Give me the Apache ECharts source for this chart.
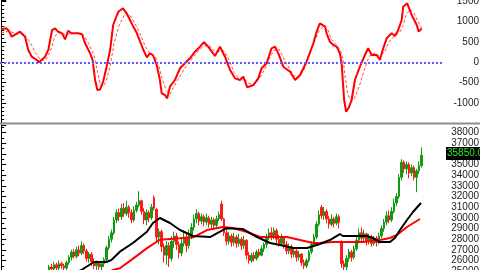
<!DOCTYPE html>
<html><head><meta charset="utf-8">
<script src="https://cdn.jsdelivr.net/npm/echarts@6/dist/echarts.min.js"></script>
<style>html,body{margin:0;padding:0;background:#fff}#c{width:480px;height:270px}</style>
</head><body><div id="c"></div>
<script>
// Oscillator (top panel): [bar position, value]
const oscMain = [[0,813],[2,837],[3,778],[4.2,631],[7.5,754],[9.5,631],[10.8,303],[12.2,138],[14.2,57],[15.1,0],[17.5,138],[18.8,303],[20.3,795],[21.5,837],[22.7,754],[24.3,714],[25.5,566],[26.7,778],[28.1,714],[30.7,714],[32.3,690],[33.5,468],[35.5,221],[36.5,57],[37.5,-436],[38.4,-682],[39.5,-670],[40.7,-478],[42.1,-108],[43.5,303],[44.7,919],[46.8,1246],[48.6,1330],[50.1,1207],[52.1,960],[54.2,714],[56.8,303],[58.2,123],[59.4,221],[60.6,180],[62.1,-66],[63.4,-436],[64.1,-764],[65.4,-805],[66.3,-887],[67.4,-600],[69.4,-436],[71.4,-148],[73.4,-25],[75.4,98],[77.4,262],[79.4,385],[81,493],[82.7,385],[84.1,262],[85.4,155],[87.4,385],[89.4,138],[91.4,-190],[93.4,-395],[95.4,-436],[96.7,-354],[98.3,-616],[100.7,-560],[102.7,-395],[104,-148],[106,-25],[108,345],[109.4,385],[110.7,221],[112.7,-108],[115.4,-231],[117.4,-436],[119.4,-313],[122,15],[124.7,468],[126,754],[127.3,960],[128,975],[129.4,877],[130,714],[131.3,508],[132.7,426],[134,385],[135.3,222],[136,-25],[137,-929],[137.8,-1217],[138.7,-1133],[140,-929],[141.3,-436],[143.3,-108],[145.3,180],[146.6,345],[148,180],[150,180],[151.3,57],[152.6,345],[154,591],[156,714],[157.3,648],[158.6,796],[160,1042],[160.6,1370],[162.2,1453],[164,1165],[166,919],[166.8,754],[167.3,754],[168,837]];
const oscSignal = [[0,720],[3,770],[6,700],[9,700],[11.5,500],[13.5,250],[15.5,80],[17.5,40],[19.5,250],[21.5,650],[23.5,760],[25.5,680],[27.5,700],[30.5,720],[33,660],[35,450],[37,180],[38.5,-250],[39.5,-520],[40.7,-600],[42,-450],[43.5,-100],[45,450],[47,900],[49.5,1200],[51.5,1150],[53.5,950],[55.5,700],[57.5,400],[59.5,200],[61.5,150],[63,-100],[64.5,-450],[66,-700],[67.5,-780],[69,-600],[71,-380],[73,-180],[75,0],[77,150],[79,300],[81,400],[83,420],[85,280],[87,260],[89,280],[91,60],[93,-250],[95,-400],[97,-400],[99,-520],[101,-540],[103,-420],[105,-200],[107,80],[109,300],[111,320],[113,80],[115,-140],[117,-330],[119,-370],[121,-180],[123,200],[125,500],[127,780],[129,900],[130.5,800],[132,560],[134,420],[135.5,300],[136.5,100],[137.5,-400],[138.5,-800],[139.8,-950],[141,-900],[143,-600],[145,-200],[147,150],[149,230],[151,150],[153,250],[155,500],[157,650],[159,720],[160.5,900],[162,1200],[163.5,1300],[165,1200],[166.5,1000],[168,850]];

// Candles (bottom panel)
const candleOpen = [23300,23500,23700,23600,23900,24100,23800,23600,23400,23700,23900,24200,24000,24300,24500,24200,24000,24300,24600,24900,25400,25200,25600,25300,25700,25500,25300,25800,26300,26800,26400,27000,26700,27400,26900,26200,26600,25900,25500,25800,25400,25700,26100,27200,28000,28600,29800,30500,30100,30900,30400,31000,30500,29800,30700,31200,31600,30600,29800,30500,30000,31900,30800,28200,28700,27300,26500,27400,26200,27800,28300,27500,26700,27600,28200,27400,28300,29100,29900,30400,29700,30100,29600,30000,29400,29800,29300,29900,31300,29900,28600,27800,28300,27700,28200,27600,28000,27400,27900,26500,26000,26500,26200,26800,26500,27100,27500,28100,28600,28300,28800,28000,27600,28100,27500,26900,27300,26600,26900,26300,26600,25800,25500,26000,26800,27500,28200,29400,31000,30200,30600,29900,29400,29900,29500,30100,27700,25700,25400,26200,26800,26300,27100,27900,28600,28100,28500,27800,28200,27600,28100,27700,28300,29000,29600,30200,29800,30600,31400,32000,33800,35200,34600,35000,34200,34700,33800,34400,34900];
const candleClose = [23500,23700,23600,23900,24100,23800,23600,23400,23700,23900,24200,24000,24300,24500,24200,24000,24300,24600,24900,25400,25200,25600,25300,25700,25500,25300,25800,26300,26800,26400,27000,26700,27400,26900,26200,26600,25900,25500,25800,25400,25700,26100,27200,28000,28600,29800,30500,30100,30900,30400,31000,30500,29800,30700,31200,31600,30600,29800,30500,30000,31000,30900,28200,28700,27300,26500,27400,26200,27800,28300,27500,26700,27600,28200,27400,28300,29100,29900,30400,29700,30100,29600,30000,29400,29800,29300,29900,30300,29900,28600,27800,28300,27700,28200,27600,28000,27400,27900,26500,26000,26500,26200,26800,26500,27100,27500,28100,28600,28300,28800,28000,27600,28100,27500,26900,27300,26600,26900,26300,26600,25800,25500,26000,26800,27500,28200,29400,30300,30200,30600,29900,29400,29900,29500,30100,29600,25700,25400,26200,26800,26300,27100,27900,28600,28100,28500,27800,28200,27600,28100,27700,28300,29000,29600,30200,29800,30600,31400,32000,33800,35200,34600,35000,34200,34700,33800,34400,34900,35850];
const candleLow = [23100,23300,23400,23400,23700,23600,23400,23200,23200,23500,23700,23800,23800,24100,24000,23800,23800,24100,24400,24700,24900,25000,25000,25100,25200,24900,25100,25600,26000,26200,26200,26400,26500,26600,25900,25800,25500,25200,25100,25000,25100,25400,25900,27000,27700,28400,29500,29700,29800,30100,30200,30000,29500,29600,30500,31000,30300,29400,29300,29600,29800,30700,27700,27500,26800,25800,25600,25400,25900,27200,27000,26200,26400,27300,26800,27100,28000,28800,29500,29300,29400,29200,29300,29100,29000,28900,29100,29700,29700,28300,27400,27500,27300,27400,27200,27300,27000,27100,26100,25700,25800,25900,26000,26300,26400,26800,27200,27900,27900,28000,27600,27300,27400,27100,26600,26600,26200,26300,25900,26000,25500,25200,25300,25800,26600,27300,28000,29200,29900,29800,29500,29000,29200,29100,29300,29000,25300,25000,25100,25900,25900,26100,26900,27600,27800,27700,27400,27500,27300,27400,27300,27500,28100,28700,29300,29500,29600,30400,31100,31800,33500,34200,34100,33700,33900,33500,32400,34100,34700];
const candleHigh = [23700,23900,23900,24100,24300,24300,24000,23800,23900,24100,24400,24400,24500,24700,24700,24400,24500,24800,25000,25600,25700,25900,25800,26000,25900,25700,26000,26500,27000,27100,27300,27400,27800,27600,27100,26800,26800,26200,26000,25900,25900,26300,27400,28300,28900,30100,30800,30900,31300,31400,31600,31200,30800,31100,31500,32500,31700,30900,30800,30700,31300,32100,30900,29000,28900,27600,27800,27700,28300,28700,28600,27800,28000,28800,28500,28900,29500,30300,30800,30600,30400,30300,30400,30200,30100,30000,30200,30600,31600,30000,28900,28700,28500,28600,28400,28500,28200,28300,28000,26800,26700,26800,27000,27100,27400,27700,28500,29000,29100,29100,29000,28400,28500,28300,27800,27600,27500,27200,27100,26900,26700,26100,26200,27000,27800,28500,29700,30700,31200,31000,30800,30200,30300,30100,30400,30300,27900,26000,26500,27100,27000,27400,28300,29000,29100,28900,28600,28500,28400,28300,28300,28600,29300,29900,30600,30700,31000,31800,32300,34100,35500,35400,35300,35200,35000,34900,34600,35300,36600];

// Moving averages: [bar position, value]
const maFast = [[24,24300],[28,24700],[32,25109],[37,25860],[42,25860],[44,26047],[47.4,26830],[52.6,27640],[58.2,28700],[60.6,29516],[63.4,29984],[67.4,29516],[71.4,28859],[76.6,28297],[83.4,28203],[86.5,28600],[90,29030],[96.6,28950],[102.2,28203],[107.4,27641],[111.4,27453],[116.6,27172],[122.2,27172],[127.3,27547],[131.3,27922],[135.3,28484],[136.5,28297],[140.5,28297],[146.1,28297],[148.5,28109],[151.3,27734],[155.3,27734],[157.3,28109],[159.3,28859],[162.1,29797],[164.5,30547],[167.7,31391]];
const maSlow = [[36,24300],[40,24600],[44.6,25110],[47.4,25270],[52.8,26200],[58.1,27140],[62.1,27760],[63.4,27950],[71.4,28080],[76.6,28180],[82.2,28859],[88.6,29141],[92.6,29047],[98.2,28672],[103.4,28203],[108.6,28203],[114.2,28203],[119.4,27922],[124.6,27641],[127.3,27641],[132.5,27734],[138.1,27734],[144.5,27734],[151.3,27922],[155.3,28109],[158.1,28391],[162.1,29141],[167.3,29891]];

const oscTicks = [-1000,-500,0,500,1000,1500];
const priceTicks = [25000,26000,27000,28000,29000,30000,31000,32000,33000,34000,35000,36000,37000,38000];
const totalSlots = 177;
const lastClose = candleClose[candleClose.length - 1];

const categories = Array.from({length: totalSlots}, (_, i) => String(i));
const candleData = candleOpen.map((o, i) => [o, candleClose[i], candleLow[i], candleHigh[i]]);

const labelBase = {fontSize: 10, color: '#222', fontFamily: 'Liberation Sans, Arial, sans-serif', margin: 36, align: 'right'};
const chart = echarts.init(document.getElementById('c'), null, {renderer: 'canvas'});
chart.setOption({
  animation: false,
  backgroundColor: '#fff',
  grid: [
    {left: 0, right: 37, top: 0, bottom: 146.8, containLabel: false, outerBoundsMode: 'none'},
    {left: 0, right: 37, top: 125, bottom: -1.2, containLabel: false, outerBoundsMode: 'none'}
  ],
  xAxis: [
    {gridIndex: 0, type: 'value', min: -0.5, max: totalSlots - 0.5, show: false},
    {gridIndex: 1, type: 'category', data: categories, show: false},
    {gridIndex: 1, type: 'value', min: -0.5, max: totalSlots - 0.5, show: false}
  ],
  yAxis: [
    {gridIndex: 0, type: 'value', position: 'right', min: -1500, max: 1535, interval: 500,
     axisLine: {show: true, lineStyle: {color: '#000', width: 1}},
     axisTick: {show: true, length: 5, lineStyle: {color: '#000'}},
     minorTick: {show: true, splitNumber: 5, length: 3, lineStyle: {color: '#000'}},
     splitLine: {show: false},
     axisLabel: Object.assign({}, labelBase, {formatter: v => oscTicks.includes(v) ? String(v) : ''})},
    {gridIndex: 1, type: 'value', position: 'right', min: 25000, max: 38700, interval: 1000,
     axisLine: {show: true, lineStyle: {color: '#000', width: 1}},
     axisTick: {show: true, length: 5, lineStyle: {color: '#000'}},
     minorTick: {show: true, splitNumber: 2, length: 3, lineStyle: {color: '#000'}},
     splitLine: {show: false},
     axisLabel: Object.assign({}, labelBase, {formatter: v => priceTicks.includes(v) ? String(v) : ''})}
  ],
  graphic: [{type: 'line', shape: {x1: 0, y1: 123.5, x2: 480, y2: 123.5}, style: {stroke: '#8e8e8e', lineWidth: 2}, z: 100}],
  series: [
    {type: 'line', xAxisIndex: 0, yAxisIndex: 0, data: oscSignal, showSymbol: false,
     lineStyle: {color: '#ff4a4a', width: 1, type: [3, 2]}, z: 3},
    {type: 'line', xAxisIndex: 0, yAxisIndex: 0, data: oscMain, showSymbol: false,
     lineStyle: {color: '#ff0000', width: 2}, z: 4,
     markLine: {silent: true, symbol: 'none', label: {show: false},
       lineStyle: {color: '#5b5bff', width: 2, type: [2, 2]}, data: [{yAxis: 0}]}},
    {type: 'candlestick', xAxisIndex: 1, yAxisIndex: 1, data: candleData, barWidth: 2, clip: false,
     itemStyle: {color: '#139a13', color0: '#ff1a1a', borderColor: '#139a13', borderColor0: '#ff1a1a', borderWidth: 1},
     z: 2},
    {type: 'line', xAxisIndex: 2, yAxisIndex: 1, data: maSlow, showSymbol: false,
     lineStyle: {color: '#ff0000', width: 2}, z: 5},
    {type: 'line', xAxisIndex: 2, yAxisIndex: 1, data: maFast, showSymbol: false,
     lineStyle: {color: '#000', width: 2}, z: 6,
     markLine: {silent: true, symbol: 'none', lineStyle: {color: 'rgba(0,0,0,0)', width: 0},
       label: {show: true, position: 'end', distance: 3, formatter: lastClose.toFixed(2), backgroundColor: '#000',
               color: '#2ee82e', fontSize: 10, fontFamily: 'Liberation Sans, Arial, sans-serif', padding: [2, 1, 1, 1], offset: [0, -2]},
       data: [{yAxis: lastClose}]}}
  ]
});
</script></body></html>
